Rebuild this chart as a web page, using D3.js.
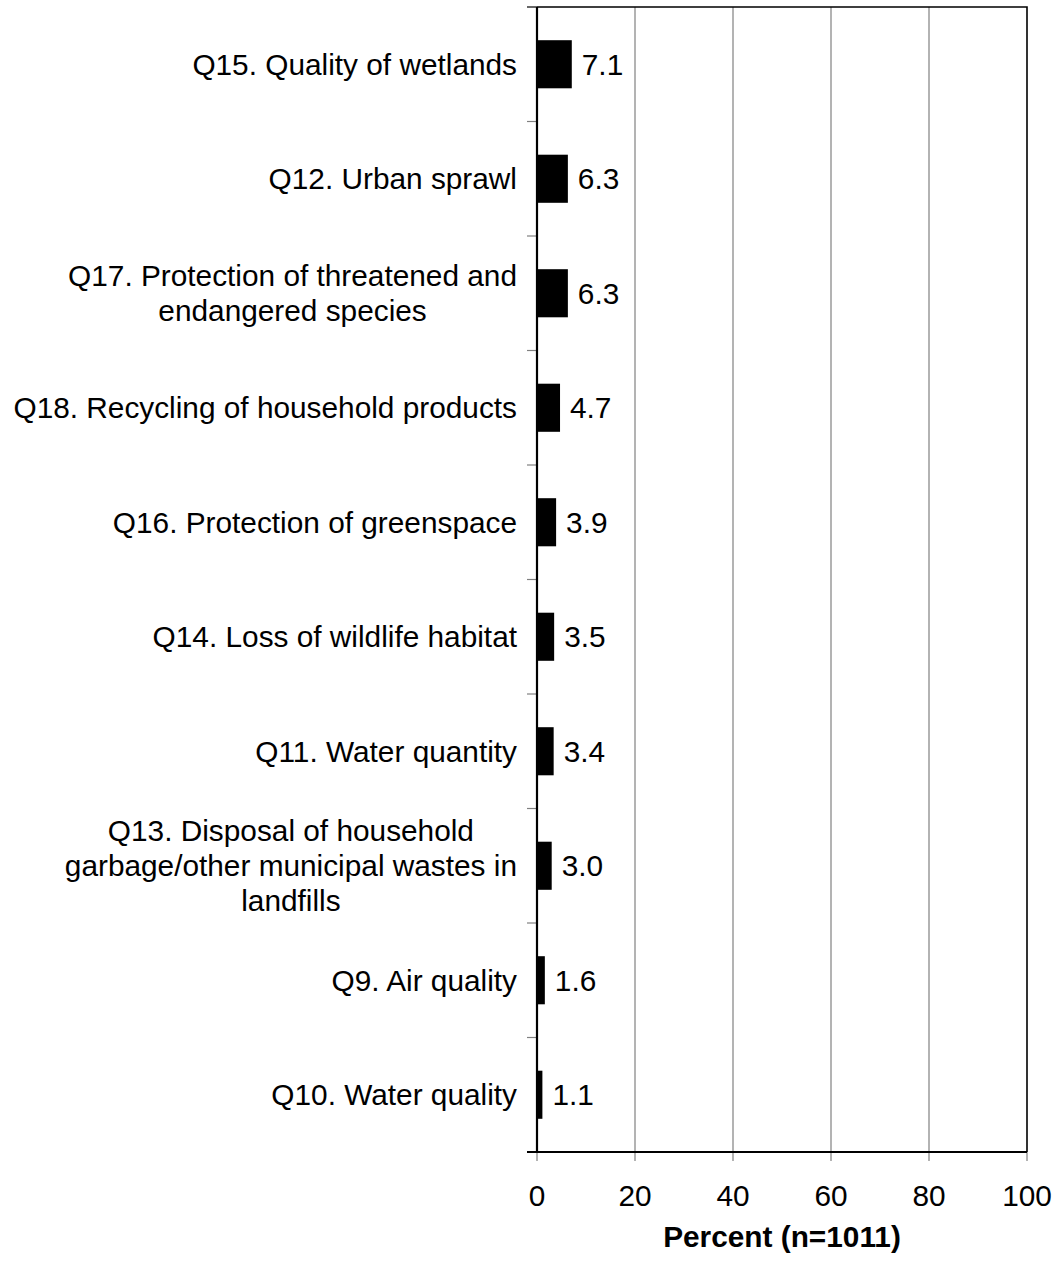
<!DOCTYPE html>
<html>
<head>
<meta charset="utf-8">
<script src="https://cdn.jsdelivr.net/npm/d3@7"></script>
<style>
  body { margin: 0; background: #fff; }
  text { font-family: "Liberation Sans", Arial, sans-serif; }
</style>
</head>
<body>
<div id="chart"></div>
<script>
/* Horizontal bar chart: environmental concerns, percent */

const categories = [
    "Q15. Quality of wetlands",
    "Q12. Urban sprawl",
    "Q17. Protection of threatened and\nendangered species",
    "Q18. Recycling of household products",
    "Q16. Protection of greenspace",
    "Q14. Loss of wildlife habitat",
    "Q11. Water quantity",
    "Q13. Disposal of household\ngarbage/other municipal wastes in\nlandfills",
    "Q9. Air quality",
    "Q10. Water quality"
];
const values = [7.1, 6.3, 6.3, 4.7, 3.9, 3.5, 3.4, 3.0, 1.6, 1.1];
const xTicks = [0, 20, 40, 60, 80, 100];
const xTitle = "Percent (n=1011)";

const width = 1056,
      height = 1264,
      margin = ({ top: 7, right: 29, bottom: 112, left: 537 }),
      fontSize = "29.8px";

const data = categories.map((c, i) => ({ cat: c, value: values[i] }));

let svg = d3.select("#chart")
    .append("svg")
    .attr("width", width)
    .attr("height", height);

let x = d3.scaleLinear()
    .domain([0, 100])
    .range([margin.left, width - margin.right]);

let y = d3.scaleBand()
    .domain(categories)
    .range([margin.top, height - margin.bottom])
    .paddingInner(0.58)
    .paddingOuter(0.29);

const gap = y.step() - y.bandwidth();

// gridlines
svg.append("g")
    .selectAll("line")
    .data(xTicks.filter(t => t > 0 && t < 100))
    .join("line")
    .attr("x1", d => x(d)).attr("x2", d => x(d))
    .attr("y1", margin.top).attr("y2", height - margin.bottom)
    .attr("stroke", "#808080")
    .attr("stroke-width", 1.2);

// x ticks below the axis
svg.append("g")
    .selectAll("line")
    .data(xTicks)
    .join("line")
    .attr("x1", d => x(d)).attr("x2", d => x(d))
    .attr("y1", height - margin.bottom).attr("y2", height - margin.bottom + 9)
    .attr("stroke", "#808080")
    .attr("stroke-width", 1.2);

svg.append("g")
    .selectAll("text")
    .data(xTicks)
    .join("text")
    .attr("x", d => x(d))
    .attr("y", height - margin.bottom + 54)
    .attr("text-anchor", "middle")
    .style("font-size", fontSize)
    .style("fill", "#000")
    .text(d => d);

// y ticks at band boundaries
const bounds = categories.map(c => y(c) - gap / 2).concat([height - margin.bottom]);
svg.append("g")
    .selectAll("line")
    .data(bounds)
    .join("line")
    .attr("x1", margin.left - 10).attr("x2", margin.left)
    .attr("y1", d => d).attr("y2", d => d)
    .attr("stroke", (d, i) => i === 0 ? "#000" : "#808080")
    .attr("stroke-width", 1.2);

// plot border (top and right)
svg.append("path")
    .attr("d", `M${x(0)},${margin.top}H${x(100)}V${height - margin.bottom}`)
    .attr("fill", "none")
    .attr("stroke", "#000")
    .attr("stroke-width", 1.6);

// bars
let bar = svg.selectAll(".bar")
    .data(data)
    .join("g")
    .attr("class", "bar");

bar.append("rect")
    .attr("fill", "#000")
    .attr("x", x(0))
    .attr("y", d => y(d.cat))
    .attr("width", d => x(d.value) - x(0))
    .attr("height", y.bandwidth());

bar.append("text")
    .attr("x", d => x(d.value) + 10)
    .attr("y", d => y(d.cat) + y.bandwidth() / 2)
    .attr("dy", "0.35em")
    .style("font-size", fontSize)
    .style("fill", "#000")
    .text(d => d.value.toFixed(1));

// category labels; wrapped ones are centred in a box right-aligned to the axis
const lineH = 35,
      labelRight = margin.left - 20;
bar.append("text")
    .style("font-size", fontSize)
    .style("fill", "#000")
    .each(function (d) {
        const lines = d.cat.split("\n");
        const cy = y(d.cat) + y.bandwidth() / 2;
        const t = d3.select(this);
        const spans = t.selectAll("tspan")
            .data(lines)
            .join("tspan")
            .attr("y", (l, i) => cy + (i - (lines.length - 1) / 2) * lineH)
            .attr("dy", "0.35em")
            .text(l => l);
        if (lines.length === 1) {
            t.attr("text-anchor", "end");
            spans.attr("x", labelRight);
        } else {
            let maxW = 0;
            spans.each(function () { maxW = Math.max(maxW, this.getComputedTextLength()); });
            t.attr("text-anchor", "middle");
            spans.attr("x", labelRight - maxW / 2);
        }
    });

// left and bottom axis lines
svg.append("line")
    .attr("x1", x(0)).attr("x2", x(0))
    .attr("y1", margin.top).attr("y2", height - margin.bottom)
    .attr("stroke", "#000").attr("stroke-width", 2.2);
svg.append("line")
    .attr("x1", x(0) - 10).attr("x2", x(100))
    .attr("y1", height - margin.bottom).attr("y2", height - margin.bottom)
    .attr("stroke", "#000").attr("stroke-width", 2.2);

// x axis title
svg.append("text")
    .attr("x", (x(0) + x(100)) / 2)
    .attr("y", height - 17)
    .attr("text-anchor", "middle")
    .style("font-size", fontSize)
    .style("font-weight", "bold")
    .style("fill", "#000")
    .text(xTitle);
</script>
</body>
</html>
